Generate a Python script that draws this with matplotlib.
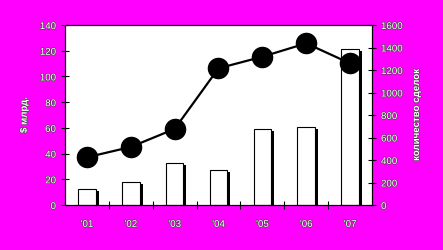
import matplotlib.pyplot as plt
import matplotlib.patheffects as pe

years = ["'01", "'02", "'03", "'04", "'05", "'06", "'07"]
value_bn = [12.2, 17.6, 32.4, 27.0, 58.9, 60.4, 121.1]
deals = [424, 516, 676, 1215, 1318, 1437, 1259]

magenta = '#FF00FF'
plt.rcParams['font.family'] = ['Liberation Sans', 'DejaVu Sans']
txt_fx = [pe.withStroke(linewidth=0.8, foreground='#404040')]

fig = plt.figure(figsize=(4.43, 2.5), dpi=100, facecolor=magenta)
ax = fig.add_axes([0.1467, 0.18, 0.693, 0.72])
ax.set_facecolor('white')

x = range(len(years))
bars = ax.bar(x, value_bn, width=0.4, color='white', edgecolor='black', linewidth=0.8, zorder=2)
for b in bars:
    b.set_path_effects([pe.SimplePatchShadow(offset=(2.2, -1.2), shadow_rgbFace='black', alpha=1), pe.Normal()])

ax.set_xlim(-0.5, len(years) - 0.5)
ax.set_ylim(0, 140)
ax.set_yticks(range(0, 141, 20))
ax.set_xticks(list(x))
ax.set_xticklabels(years)
ax.set_xticks([i + 0.5 for i in range(len(years) - 1)], minor=True)
ax.tick_params(axis='x', which='major', length=0, pad=10)
ax.tick_params(axis='x', which='minor', direction='inout', length=6, width=0.8)
ax.tick_params(axis='y', direction='inout', length=6, width=0.8)
ax.set_ylabel('$ млрд.', color='white', fontsize=7, fontweight='bold', labelpad=8,
              path_effects=txt_fx)

ax2 = ax.twinx()
ax2.plot(x, deals, color='black', linewidth=1.6, marker='o', markersize=14.5, zorder=3)
ax2.set_ylim(0, 1600)
ax2.set_yticks(range(0, 1601, 200))
ax2.tick_params(axis='y', direction='inout', length=6, width=0.8)
ax2.set_ylabel('количество сделок', color='white', fontsize=7, fontweight='bold',
               rotation=90, labelpad=6, path_effects=txt_fx)

for a in (ax, ax2):
    for s in a.spines.values():
        s.set_linewidth(0.8)
    for lab in a.get_xticklabels() + a.get_yticklabels():
        lab.set_color('white')
        lab.set_fontsize(7)
        lab.set_path_effects(txt_fx)

fig.savefig('out.png', dpi=100, facecolor=magenta)
